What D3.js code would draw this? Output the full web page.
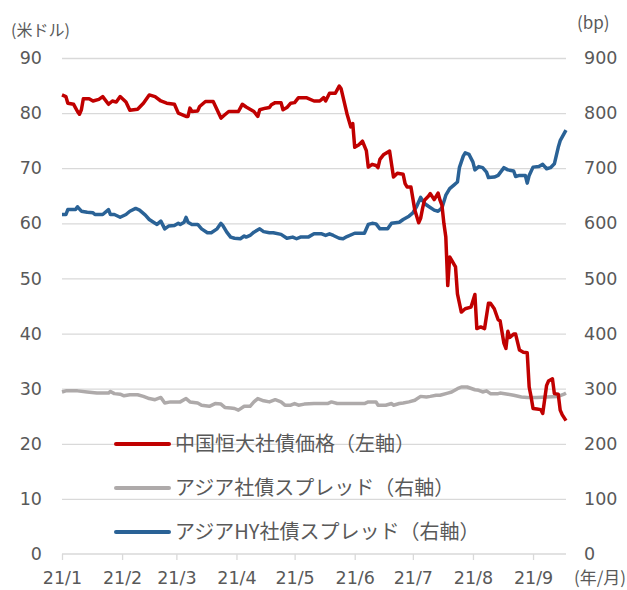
<!DOCTYPE html>
<html>
<head>
<meta charset="utf-8">
<script src="https://cdn.jsdelivr.net/npm/d3@7"></script>
<style>
  html, body { margin: 0; padding: 0; background: #fff; }
  svg { display: block; }
  .num { font-family: "DejaVu Sans", Verdana, sans-serif; fill: #595959; }
  .jp { font-family: "Noto Sans CJK JP", sans-serif; fill: #595959; }
</style>
</head>
<body>
<script>
// ---------------- data ----------------
const year = "2021";
const monthTicks = ["01-01","02-01","03-01","04-01","05-01","06-01","07-01","08-01","09-01"];
const leftTicks = [0,10,20,30,40,50,60,70,80,90];
const rightTicks = [0,100,200,300,400,500,600,700,800,900];
const seriesNames = ["中国恒大社債価格（左軸）","アジア社債スプレッド（右軸）","アジアHY社債スプレッド（右軸）"];
const leftUnit = "(米ドル)";
const rightUnit = "(bp)";
const xUnit = "(年/月)";

// 中国恒大社債価格 (USD, left axis)
const evergrandeDates = ["01-01","01-03","01-04","01-07","01-09","01-10","01-11","01-12","01-15","01-17","01-20","01-22","01-25","01-27","01-29","01-31",
  "02-03","02-05","02-09","02-12","02-15","02-18","02-21","02-24","02-28",
  "03-02","03-06","03-07","03-08","03-09","03-12","03-13","03-16","03-20","03-22","03-24","03-26","03-28",
  "04-02","04-04","04-06","04-10","04-12","04-13","04-16","04-18","04-19","04-21","04-24","04-25","04-27","04-29",
  "05-01","05-03","05-07","05-11","05-14","05-16","05-17","05-19","05-22","05-24","05-25","05-28","05-30","05-31",
  "06-01","06-03","06-05","06-07","06-08","06-10","06-12","06-13","06-14","06-16","06-19","06-21","06-23","06-26","06-27","06-28","06-30",
  "07-02","07-04","07-05","07-06","07-07","07-09","07-10","07-12","07-14","07-15","07-16","07-17","07-18","07-19","07-20","07-21","07-23","07-24","07-26","07-28","07-31",
  "08-02","08-03","08-05","08-07","08-09","08-10","08-12","08-14","08-15","08-17","08-18","08-19","08-20","08-22","08-23","08-25","08-27","08-29","08-30","08-31",
  "09-01","09-03","09-05","09-06","09-08","09-09","09-11","09-12","09-14","09-15","09-16","09-18"];
const evergrandePrice = [83.3,83.0,81.8,81.6,80.3,79.8,80.6,82.6,82.6,82.2,82.5,83.0,81.6,82.2,82.0,83.0,
  82.0,80.5,80.7,81.8,83.3,83.0,82.2,81.8,81.6,
  80.0,79.4,79.4,80.9,80.3,80.4,81.2,82.1,82.1,80.6,79.1,79.7,80.3,
  80.3,81.6,81.1,80.3,79.4,80.6,80.9,81.0,81.5,81.9,81.9,80.6,81.0,81.8,
  81.9,82.8,82.8,82.2,82.2,82.8,82.2,83.6,83.6,84.9,84.4,79.9,77.5,78.1,
  73.8,74.2,74.9,73.2,70.2,70.7,70.5,70.1,71.6,72.5,73.1,68.4,69.1,68.9,67.2,66.6,66.6,
  62.4,60.1,60.9,62.7,64.2,64.9,65.4,64.3,65.5,64.2,63.3,60.0,57.5,48.7,53.9,53.3,52.1,47.2,43.9,44.5,44.8,
  47.1,40.9,41.2,40.9,45.5,45.5,44.5,42.5,42.3,38.2,37.3,40.4,39.3,39.9,39.9,37.0,36.6,36.5,30.3,28.5,
  26.4,26.3,26.2,25.5,30.6,31.4,31.8,29.1,29.0,26.1,25.3,24.2];

// アジア社債スプレッド (bp, right axis)
const asiaIgDates = ["01-01","01-03","01-09","01-14","01-19","01-25","01-26","01-28","01-31",
  "02-02","02-05","02-09","02-12","02-15","02-18","02-21","02-23","02-26",
  "03-03","03-06","03-08","03-12","03-14","03-18","03-21","03-24","03-26","03-29","03-31",
  "04-02","04-05","04-08","04-10","04-12","04-15","04-18","04-21","04-24","04-26","04-29",
  "05-01","05-03","05-06","05-11","05-18","05-20","05-23","05-30",
  "06-06","06-08","06-12","06-13","06-17","06-20","06-21","06-24","06-26","06-29",
  "07-02","07-05","07-08","07-10","07-13","07-15","07-19","07-21","07-24","07-26","07-29",
  "08-02","08-04","08-06","08-08","08-10","08-14","08-15","08-19","08-22","08-26","08-29",
  "09-03","09-08","09-14","09-17","09-18"];
const asiaIgSpread = [294,296,296,294,292,292,295,291,290,
  287,289,289,286,282,280,284,274,276,
  276,282,276,274,270,268,273,272,266,265,264,
  261,268,268,276,282,278,276,280,276,270,270,
  273,270,272,273,273,276,273,273,
  273,276,276,270,270,273,270,273,274,276,
  279,286,285,286,288,288,292,294,300,303,303,
  298,297,294,296,291,291,292,290,288,285,284,
  284,285,286,290,292];

// アジアHY社債スプレッド (bp, right axis)
const asiaHyDates = ["01-01","01-03","01-04","01-08","01-09","01-11","01-14","01-17","01-18","01-22","01-25","01-26","01-28","01-31",
  "02-03","02-05","02-08","02-10","02-13","02-15","02-18","02-19","02-21","02-23","02-25","02-28",
  "03-02","03-03","03-05","03-06","03-07","03-09","03-12","03-14","03-17","03-19","03-22","03-24","03-25","03-27","03-29","03-31",
  "04-03","04-05","04-06","04-08","04-10","04-13","04-15","04-18","04-20","04-24","04-27","04-30",
  "05-02","05-04","05-08","05-11","05-15","05-17","05-19","05-21","05-24","05-26","05-28",
  "06-01","06-06","06-08","06-10","06-12","06-14","06-18","06-20","06-24","06-26","06-29",
  "07-01","07-03","07-05","07-07","07-09","07-12","07-14","07-16","07-18","07-20","07-22","07-24","07-25","07-27","07-28","07-30",
  "08-01","08-02","08-04","08-06","08-08","08-09","08-12","08-14","08-17","08-19","08-22","08-23","08-25","08-28","08-29","08-30",
  "09-01","09-04","09-06","09-08","09-10","09-12","09-14","09-15","09-18"];
const asiaHySpread = [616,616,625,625,630,622,620,619,616,616,625,616,616,611,
  616,622,627,624,615,607,600,598,604,590,595,596,
  600,598,602,611,602,598,598,590,583,583,590,600,596,584,575,573,
  572,577,575,578,584,590,585,583,583,580,573,575,
  572,575,575,581,581,578,581,578,573,572,576,
  582,582,598,600,599,590,590,600,602,607,613,
  619,631,647,636,631,624,622,628,651,663,669,675,701,722,728,725,
  711,697,703,701,693,683,684,687,701,697,695,685,687,687,673,687,
  702,703,707,699,701,708,738,750,769];

const domainStart = "01-01", domainEnd = "09-18";

// ---------------- chart ----------------
const W = 627, H = 590;
const m = {left: 62, right: 61, top: 58, bottom: 36};
const pw = W - m.left - m.right, ph = H - m.top - m.bottom;
const parse = d3.timeParse("%Y-%m-%d");
const toDate = s => parse(year + "-" + s);

const x = d3.scaleTime().domain([toDate(domainStart), toDate(domainEnd)]).range([0, pw]);
const yL = d3.scaleLinear().domain([0, 90]).range([ph, 0]);
const yR = d3.scaleLinear().domain([0, 900]).range([ph, 0]);

const svg = d3.select("body").append("svg").attr("width", W).attr("height", H);
const g = svg.append("g").attr("transform", `translate(${m.left},${m.top})`);

// gridlines
const grid = g.append("g").call(d3.axisLeft(yL).tickValues(leftTicks.filter(v => v > 0)).tickSize(-pw).tickFormat(""));
grid.select(".domain").remove();
grid.selectAll("line").attr("stroke", "#D9D9D9").attr("stroke-width", 1.3);

// x axis
const xa = g.append("g").attr("transform", `translate(0,${ph})`)
  .call(d3.axisBottom(x).tickValues(monthTicks.map(toDate)).tickSize(6).tickPadding(12).tickFormat(d3.timeFormat("%y/%-m")));
xa.select(".domain").attr("stroke", "#D9D9D9").attr("stroke-width", 1.5).attr("d", `M0,0H${pw}`);
xa.selectAll("line").attr("stroke", "#D9D9D9").attr("stroke-width", 1.3);
xa.selectAll("text").attr("class", "num").attr("font-size", 17.5).attr("fill", "#595959");

// left axis
const la = g.append("g").call(d3.axisLeft(yL).tickValues(leftTicks).tickSize(0).tickPadding(20).tickFormat(d3.format("d")));
la.select(".domain").remove();
la.selectAll("text").attr("class", "num").attr("font-size", 17.5).attr("fill", "#595959");

// right axis
const ra = g.append("g").attr("transform", `translate(${pw},0)`)
  .call(d3.axisRight(yR).tickValues(rightTicks).tickSize(0).tickPadding(18).tickFormat(d3.format("d")));
ra.select(".domain").remove();
ra.selectAll("text").attr("class", "num").attr("font-size", 17.5).attr("fill", "#595959");

// unit labels
svg.append("text").attr("class", "jp").attr("x", 11).attr("y", 36).attr("font-size", 16).attr("fill", "#404040").text(leftUnit);
svg.append("text").attr("class", "jp").attr("x", 577).attr("y", 29).attr("font-size", 17).attr("fill", "#404040").text(rightUnit);
svg.append("text").attr("class", "jp").attr("x", 600).attr("y", 584).attr("text-anchor", "middle").attr("font-size", 17).attr("fill", "#595959").text(xUnit);

// lines
const colors = ["#C00000", "#AEAAAA", "#2A6296"];
const mk = (dates, vals) => dates.map((d, i) => ({date: toDate(d), v: vals[i]}));
const lineL = d3.line().x(d => x(d.date)).y(d => yL(d.v));
const lineR = d3.line().x(d => x(d.date)).y(d => yR(d.v));

g.append("path").datum(mk(asiaIgDates, asiaIgSpread)).attr("d", lineR)
  .attr("fill", "none").attr("stroke", colors[1]).attr("stroke-width", 3.5).attr("stroke-linejoin", "round");
g.append("path").datum(mk(asiaHyDates, asiaHySpread)).attr("d", lineR)
  .attr("fill", "none").attr("stroke", colors[2]).attr("stroke-width", 3.5).attr("stroke-linejoin", "round");
g.append("path").datum(mk(evergrandeDates, evergrandePrice)).attr("d", lineL)
  .attr("fill", "none").attr("stroke", colors[0]).attr("stroke-width", 3.5).attr("stroke-linejoin", "round");

// legend
const lg = svg.append("g");
seriesNames.forEach((name, i) => {
  const yy = 444 + i * 44;
  lg.append("line").attr("x1", 116).attr("x2", 169).attr("y1", yy).attr("y2", yy)
    .attr("stroke", colors[i]).attr("stroke-width", 4).attr("stroke-linecap", "round");
  lg.append("text").attr("class", "jp").attr("x", 175).attr("y", yy).attr("dy", "0.36em")
    .attr("font-size", 20).attr("fill", "#595959").text(name);
});
</script>
</body>
</html>
